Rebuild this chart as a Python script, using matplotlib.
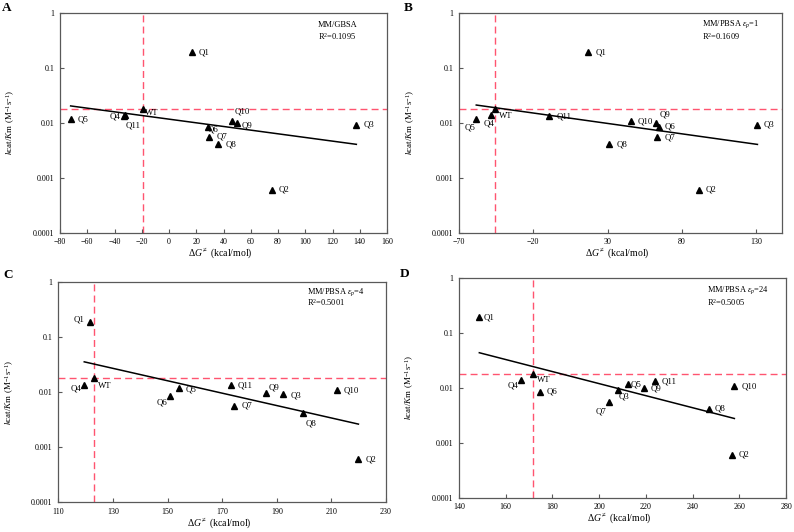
import numpy as np
import matplotlib.pyplot as plt

plt.rcParams['font.family'] = ['Liberation Serif', 'DejaVu Serif']
plt.rcParams['mathtext.fontset'] = 'custom'
plt.rcParams['mathtext.rm'] = 'Liberation Serif'
plt.rcParams['mathtext.it'] = 'Liberation Serif:italic'

# ----------------------------
# data
# ----------------------------
NAMES = ["Q1", "Q2", "Q3", "Q4", "Q5", "Q6", "Q7", "Q8", "Q9", "Q10", "Q11", "WT"]
KCAT_KM = [0.19, 0.0006, 0.0091, 0.0136, 0.0116, 0.0085, 0.0056, 0.0041,
           0.0097, 0.0107, 0.0132, 0.018]

DG_GBSA   = [16.7, 75.3, 137.5, -32.2, -72.2, 28.7, 29.5, 36.3, 49.8, 46.6, -33.0, -19.3]
DG_PBSA1  = [17.1, 91.2, 130.7, -48.3, -58.2, 64.8, 63.5, 31.3, 62.4, 45.7, -9.0, -45.4]
DG_PBSA4  = [121.6, 219.9, 192.4, 119.5, 154.2, 150.9, 174.5, 199.7, 185.9, 212.0, 173.1, 123.1]
DG_PBSA24 = [148.7, 256.8, 207.9, 166.4, 212.4, 174.5, 204.4, 246.9, 219.0, 257.9, 224.1, 171.7]

METHODS = ["MM/GBSA", r"MM/PBSA $\varepsilon_p$=1", r"MM/PBSA $\varepsilon_p$=4",
           r"MM/PBSA $\varepsilon_p$=24"]
R2_TEXT = ["0.1095", "0.1609", "0.5001", "0.5005"]
PANELS = ["A", "B", "C", "D"]

XLIMS = [(-80, 160), (-70, 147), (110, 230), (140, 280)]
XTICKS = [np.arange(-80, 161, 20), [-70, -20, 30, 80, 130],
          np.arange(110, 231, 20), np.arange(140, 281, 20)]

# ----------------------------
# layout / style
# ----------------------------
W, H = 794, 532
# axes boxes in pixels: left, top, right, bottom
BOXES = [(60, 12.7, 387, 232.7), (458.7, 12.7, 781.7, 232.7),
         (58.3, 282, 386, 502), (459, 277.7, 786, 497.7)]
PANEL_POS = [(2, 8), (404, 8), (3, 275), (400, 274)]
ANNOT_X = [0.789, 0.753, 0.759, 0.758]
ANNOT_Y = [(0.944, 0.89), (0.946, 0.89), (0.953, 0.905), (0.942, 0.888)]

RED = "#FF5470"
SPINE = "#595959"

# label offsets in pixels (dx, dy, ha) per panel
OFFS = [
    {"Q1": (7, 0, "left"), "Q2": (7, 0, "left"), "Q3": (7, 0, "left"), "Q5": (7, 0, "left"),
     "Q4": (-5, -1, "right"), "Q11": (2, -9, "left"), "WT": (2, -4, "left"),
     "Q10": (2, 10, "left"), "Q9": (5, -2, "left"), "Q6": (0, -3, "left"),
     "Q7": (7, 0, "left"), "Q8": (7, -1, "left")},
    {"Q1": (7, 0, "left"), "Q5": (-1, -8, "right"), "Q4": (-2, -8, "center"),
     "WT": (4, -7, "left"), "Q11": (7, 0, "left"), "Q10": (7, 0, "left"),
     "Q9": (4, 9, "left"), "Q6": (5, 0, "left"), "Q7": (7, -1, "left"),
     "Q8": (7, -1, "left"), "Q2": (7, 0, "left"), "Q3": (6, 0, "left")},
    {"Q1": (-5, 2, "right"), "Q4": (-3, -4, "right"), "WT": (4, -8, "left"),
     "Q6": (-3, -7, "right"), "Q5": (7, -1, "left"), "Q11": (7, 0, "left"),
     "Q7": (7, 0, "left"), "Q9": (3, 5, "left"), "Q3": (7, -1, "left"),
     "Q8": (2, -10, "left"), "Q10": (7, 0, "left"), "Q2": (7, 0, "left")},
    {"Q1": (4, 0, "left"), "Q4": (-2, -5, "right"), "WT": (4, -6, "left"),
     "Q6": (7, 0, "left"), "Q7": (-3, -10, "right"), "Q3": (1, -7, "left"),
     "Q5": (3, 0, "left"), "Q9": (7, 0, "left"), "Q11": (6, 0, "left"),
     "Q8": (6, 0, "left"), "Q10": (7, 0, "left"), "Q2": (7, 0, "left")},
]

fig = plt.figure(figsize=(W / 100, H / 100), dpi=100)
y = np.array(KCAT_KM)
wt = NAMES.index("WT")

for i, xs in enumerate([DG_GBSA, DG_PBSA1, DG_PBSA4, DG_PBSA24]):
    l, t, r, b = BOXES[i]
    ax = fig.add_axes([l / W, 1 - b / H, (r - l) / W, (b - t) / H])
    x = np.array(xs)

    ax.set_yscale("log")
    ax.set_ylim(1e-4, 1)
    ax.set_xlim(*XLIMS[i])
    ax.set_xticks(XTICKS[i])
    ax.set_yticks([1e-4, 1e-3, 1e-2, 1e-1, 1])
    ax.set_yticklabels(["0.0001", "0.001", "0.01", "0.1", "1"])
    ax.minorticks_off()
    ax.tick_params(direction="in", length=3, width=0.8, color=SPINE, labelsize=5.8, pad=4)
    for s in ax.spines.values():
        s.set_color(SPINE); s.set_linewidth(0.9)

    # reference lines at WT
    ax.axhline(y[wt], color=RED, ls=(0, (5, 3)), lw=1.0, zorder=1)
    ax.axvline(x[wt], color=RED, ls=(0, (5, 3)), lw=1.0, zorder=1)

    # exponential trendline (log-linear fit)
    k, c = np.polyfit(x, np.log10(y), 1)
    xx = np.array([x.min(), x.max()])
    ax.plot(xx, 10 ** (k * xx + c), color="black", lw=1.1, zorder=2)

    ax.plot(x, y, ls="none", marker="^", ms=4, color="black", zorder=3)
    for j, name in enumerate(NAMES):
        dx, dy, ha = OFFS[i][name]
        ax.annotate(name, (x[j], y[j]), xytext=(dx, dy), textcoords="offset pixels",
                    ha=ha, va="center", fontsize=6.3)

    ax.text(ANNOT_X[i], ANNOT_Y[i][0], METHODS[i], transform=ax.transAxes,
            fontsize=6.0, va="center", ha="left")
    ax.text(ANNOT_X[i], ANNOT_Y[i][1], "R$^2$=" + R2_TEXT[i], transform=ax.transAxes,
            fontsize=6.0, va="center", ha="left")

    ax.set_xlabel(r"$\Delta G^{\neq}$ (kcal/mol)", fontsize=7)
    ax.xaxis.set_label_coords(0.49, -0.062)
    ax.set_ylabel(r"$k$cat/$K$m (M$^{-1}$s$^{-1}$)", fontsize=6.5)
    ax.yaxis.set_label_coords(-0.13, 0.5)

    px, py = PANEL_POS[i]
    fig.text(px / W, 1 - py / H, PANELS[i], fontsize=9.5, fontweight="bold",
             ha="left", va="center")

fig.savefig("out.png", dpi=100)
